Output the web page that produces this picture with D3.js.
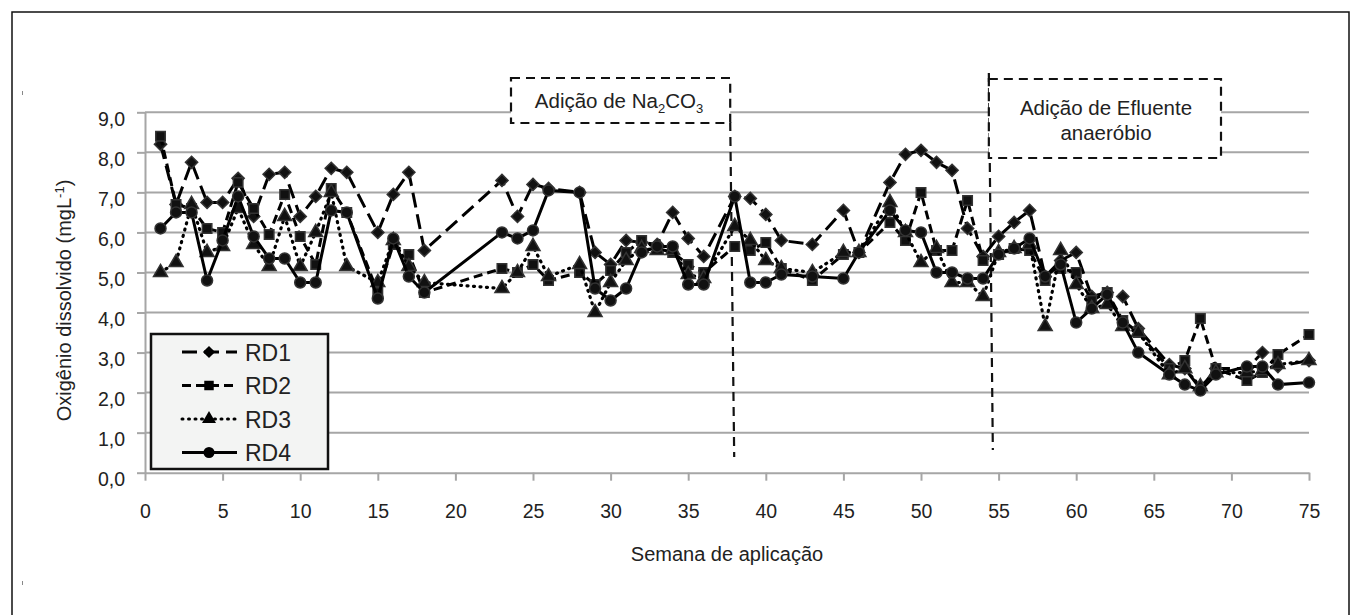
<!DOCTYPE html>
<html>
<head>
<meta charset="utf-8">
<script src="https://cdn.jsdelivr.net/npm/d3@7"></script>
<style>
  body { margin: 0; background: #fff; }
  svg { display: block; font-family: 'Liberation Sans', Arial, sans-serif; }
  .grid line { stroke: #a6a6a6; stroke-width: 2; }
  .axis path, .axis line { stroke: #a6a6a6; stroke-width: 2; }
  .axis text { fill: #222; font-size: 19.5px; }
</style>
</head>
<body>
<div id="chart"></div>
<script>
// weeks with measurements (shared by all reactors)
const weeks = [1, 2, 3, 4, 5, 6, 7, 8, 9, 10, 11, 12, 13, 15, 16, 17, 18, 23, 24, 25, 26, 28, 29, 30,
  31, 32, 33, 34, 35, 36, 38, 39, 40, 41, 43, 45, 46, 48, 49, 50, 51, 52, 53, 54, 55, 56, 57, 58,
  59, 60, 61, 62, 63, 64, 66, 67, 68, 69, 71, 72, 73, 75];

const rd1 = [8.2, 6.7, 7.75, 6.75, 6.75, 7.35, 6.4, 7.45, 7.5, 6.4, 6.9, 7.6, 7.5, 6.0, 6.95, 7.5,
  5.55, 7.3, 6.4, 7.2, 7.1, 7.0, 5.5, 5.2, 5.8, 5.75, 5.7, 6.5, 5.85, 5.4, 6.9, 6.85, 6.45, 5.8,
  5.7, 6.55, 5.5, 7.25, 7.95, 8.05, 7.75, 7.55, 6.1, 5.4, 5.9, 6.25, 6.55, 4.9, 5.3, 5.5, 4.4,
  4.5, 4.4, 3.6, 2.7, 2.6, 2.1, 2.6, 2.6, 3.0, 2.65, 2.8];

const rd2 = [8.4, 6.7, 6.6, 6.1, 6.0, 7.25, 6.6, 5.95, 6.95, 5.9, 5.2, 7.1, 6.5, 4.5, 5.7, 5.45,
  4.5, 5.1, 5.0, 5.2, 4.8, 5.0, 4.7, 5.05, 5.5, 5.8, 5.6, 5.5, 5.2, 5.0, 5.65, 5.55, 5.75, 5.1,
  4.8, 5.45, 5.5, 6.25, 5.8, 7.0, 5.55, 5.55, 6.8, 5.3, 5.45, 5.6, 5.55, 4.8, 5.1, 5.0, 4.3,
  4.5, 3.8, 3.5, 2.6, 2.8, 3.85, 2.6, 2.3, 2.5, 2.95, 3.45];

const rd3 = [5.0, 5.25, 6.7, 5.5, 5.65, 6.6, 5.7, 5.15, 6.4, 5.15, 6.0, 7.0, 5.15, 4.75, 5.8, 5.15,
  4.75, 4.6, 5.0, 5.65, 4.9, 5.2, 4.0, 4.75, 5.3, 5.6, 5.55, 5.55, 4.95, 4.85, 6.15, 5.8, 5.3,
  5.1, 5.0, 5.5, 5.5, 6.75, 6.0, 5.25, 5.6, 4.75, 4.75, 4.4, 5.5, 5.6, 5.7, 3.65, 5.55, 4.7,
  4.1, 4.2, 3.65, 3.5, 2.45, 2.6, 2.15, 2.5, 2.5, 2.55, 2.7, 2.8];

const rd4 = [6.1, 6.5, 6.5, 4.8, 5.8, 6.9, 5.9, 5.35, 5.35, 4.75, 4.75, 6.55, 6.5, 4.35, 5.85, 4.9,
  4.5, 6.0, 5.85, 6.05, 7.05, 7.0, 4.6, 4.3, 4.6, 5.5, 5.65, 5.65, 4.7, 4.7, 6.9, 4.75, 4.75,
  4.95, 4.9, 4.85, 5.5, 6.55, 6.05, 6.0, 5.0, 5.0, 4.85, 4.85, 5.45, 5.6, 5.85, 4.9, 5.2, 3.75,
  4.1, 4.45, 3.75, 3.0, 2.45, 2.2, 2.05, 2.45, 2.65, 2.65, 2.2, 2.25];

const seriesNames = ['RD1', 'RD2', 'RD3', 'RD4'];
const xTicks = d3.range(0, 80, 5);
const yTicks = d3.range(0, 10, 1);

// events marked on the chart (week of the change)
const na2co3Week = 37.9;
const efluenteWeek = 54.5;

// dimension stuff
const width = 1362;
const height = 615;

const x = d3.scaleLinear().domain([0, 75]).range([145, 1309]);
const y = d3.scaleLinear().domain([0, 9]).range([472.7, 112.3]);

const styles = [
  { dash: '15,7', symbol: d3.symbolDiamond2, size: 95, dotted: false },
  { dash: '9,5', symbol: d3.symbolSquare, size: 90, dotted: false },
  { dash: '1,5.5', symbol: d3.symbolTriangle, size: 85, dotted: true },
  { dash: null, symbol: d3.symbolCircle, size: 95, dotted: false },
];

const series = [rd1, rd2, rd3, rd4].map((vals, i) => ({
  name: seriesNames[i],
  points: weeks.map((w, j) => ({ week: w, value: vals[j] })),
  ...styles[i],
}));

const fmt = d => d3.format('.1f')(d).replace('.', ',');

const $svg = d3.select('#chart').append('svg')
  .attr('width', width)
  .attr('height', height);

// outer frame
$svg.append('path')
  .attr('d', 'M12,615 L12,12 L1349,12 L1349,615')
  .attr('fill', 'none')
  .attr('stroke', '#111')
  .attr('stroke-width', 1.5);

// two stray marks on the left margin of the original
$svg.append('g').selectAll('line')
  .data([93, 583])
  .join('line')
  .attr('x1', 22.5).attr('x2', 22.5)
  .attr('y1', d => d - 2).attr('y2', d => d + 2)
  .attr('stroke', '#888').attr('stroke-width', 1);

// gridlines
$svg.append('g').attr('class', 'grid')
  .selectAll('line')
  .data(yTicks.filter(d => d > 0))
  .join('line')
  .attr('x1', x(0))
  .attr('x2', x(75))
  .attr('y1', d => y(d))
  .attr('y2', d => y(d));

// axes
const $yAxis = $svg.append('g').attr('class', 'axis')
  .attr('transform', `translate(${x(0)},0)`)
  .call(d3.axisLeft(y).tickValues(yTicks).tickFormat(fmt).tickSize(8).tickPadding(12).tickSizeOuter(0));
$yAxis.selectAll('text').attr('dy', null).attr('y', 8).attr('dominant-baseline', 'middle');

$svg.append('g').attr('class', 'axis')
  .attr('transform', `translate(0,${y(0)})`)
  .call(d3.axisBottom(x).tickValues(xTicks).tickSize(8).tickPadding(23).tickSizeOuter(0));

// axis titles
$svg.append('text')
  .attr('transform', `translate(71,${(y(0) + y(9)) / 2 + 8}) rotate(-90)`)
  .attr('text-anchor', 'middle')
  .attr('fill', '#222')
  .style('font-size', '20px')
  .text('Oxigênio dissolvido (mgL')
  .call(t => {
    t.append('tspan').attr('dy', -7).style('font-size', '13px').text('-1');
    t.append('tspan').attr('dy', 7).text(')');
  });

$svg.append('text')
  .attr('x', (x(0) + x(75)) / 2)
  .attr('y', 561)
  .attr('text-anchor', 'middle')
  .attr('fill', '#222')
  .style('font-size', '20px')
  .text('Semana de aplicação');

// event lines
$svg.append('line')
  .attr('x1', x(na2co3Week) - 3).attr('x2', x(na2co3Week) + 1)
  .attr('y1', 122).attr('y2', 457)
  .attr('stroke', '#111').attr('stroke-width', 2.2).attr('stroke-dasharray', '9,6');

$svg.append('line')
  .attr('x1', x(efluenteWeek) - 2).attr('x2', x(efluenteWeek) + 2)
  .attr('y1', 73).attr('y2', 450)
  .attr('stroke', '#111').attr('stroke-width', 2.2).attr('stroke-dasharray', '9,6');

// series lines and markers
const line = d3.line().x(d => x(d.week)).y(d => y(d.value));
const $vis = $svg.append('g').attr('class', 'g-vis');

series.forEach(s => {
  $vis.append('path')
    .datum(s.points)
    .attr('d', line)
    .attr('fill', 'none')
    .attr('stroke', '#000')
    .attr('stroke-width', s.dotted ? 3.2 : 3)
    .attr('stroke-linecap', s.dotted ? 'round' : 'butt')
    .attr('stroke-dasharray', s.dash);

  $vis.append('g')
    .selectAll('path')
    .data(s.points)
    .join('path')
    .attr('transform', d => `translate(${x(d.week)},${y(d.value)})`)
    .attr('d', d3.symbol().type(s.symbol).size(s.size))
    .attr('fill', '#111')
    .attr('stroke', '#333')
    .attr('stroke-width', 1.5);
});

// annotation boxes
const $box1 = $svg.append('g');
$box1.append('rect')
  .attr('x', 511).attr('y', 78)
  .attr('width', x(na2co3Week) - 3 - 511).attr('height', 45)
  .attr('fill', '#fff').attr('stroke', '#111').attr('stroke-width', 2.2)
  .attr('stroke-dasharray', '9,6');
$box1.append('text')
  .attr('x', 619).attr('y', 108)
  .attr('text-anchor', 'middle')
  .attr('fill', '#222')
  .style('font-size', '20.5px')
  .text('Adição de Na')
  .call(t => {
    t.append('tspan').attr('dy', 5).style('font-size', '13px').text('2');
    t.append('tspan').attr('dy', -5).text('CO');
    t.append('tspan').attr('dy', 5).style('font-size', '13px').text('3');
  });

const $box2 = $svg.append('g');
$box2.append('rect')
  .attr('x', x(efluenteWeek) - 2).attr('y', 79)
  .attr('width', 1221 - x(efluenteWeek) + 2).attr('height', 79)
  .attr('fill', '#fff').attr('stroke', '#111').attr('stroke-width', 2.2)
  .attr('stroke-dasharray', '9,6');
$box2.append('text')
  .attr('x', 1106).attr('y', 115)
  .attr('text-anchor', 'middle')
  .attr('fill', '#222')
  .style('font-size', '20.5px')
  .text('Adição de Efluente');
$box2.append('text')
  .attr('x', 1106).attr('y', 140)
  .attr('text-anchor', 'middle')
  .attr('fill', '#222')
  .style('font-size', '20.5px')
  .text('anaeróbio');

// legend
const $legend = $svg.append('g');
$legend.append('rect')
  .attr('x', 151).attr('y', 334)
  .attr('width', 177).attr('height', 135)
  .attr('fill', '#f3f4f3').attr('stroke', '#111').attr('stroke-width', 2.5);

const $item = $legend.selectAll('g.item')
  .data(series)
  .join('g')
  .attr('class', 'item')
  .attr('transform', (d, i) => `translate(0,${352 + i * 33.5})`);

$item.append('line')
  .attr('x1', 182).attr('x2', 237)
  .attr('stroke', '#000')
  .attr('stroke-width', d => (d.dotted ? 3 : 3.2))
  .attr('stroke-linecap', d => (d.dotted ? 'round' : 'butt'))
  .attr('stroke-dasharray', d => d.dash);

$item.append('path')
  .attr('transform', 'translate(209,0)')
  .attr('d', d => d3.symbol().type(d.symbol).size(d.size)())
  .attr('fill', '#000');

$item.append('text')
  .attr('x', 245).attr('y', 8.5)
  .attr('fill', '#222')
  .style('font-size', '23px')
  .text(d => d.name);
</script>
</body>
</html>
